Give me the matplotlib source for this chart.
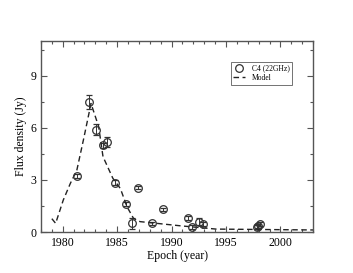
import numpy as np
import matplotlib.pyplot as plt
from matplotlib.ticker import MultipleLocator

# observed flux densities (C4, 22 GHz)
epoch = [1981.3, 1982.4, 1983.1, 1983.7, 1984.1, 1984.8, 1985.8, 1986.4, 1986.9,
         1988.2, 1989.2, 1991.5, 1991.9, 1992.5, 1992.9, 1997.8, 1997.9, 1998.1]
flux = [3.22, 7.5, 5.9, 5.0, 5.2, 2.84, 1.6, 0.5, 2.55,
        0.5, 1.3, 0.82, 0.3, 0.6, 0.44, 0.3, 0.36, 0.46]
ferr = [0.12, 0.4, 0.3, 0.15, 0.3, 0.15, 0.12, 0.3, 0.1,
        0.1, 0.1, 0.1, 0.1, 0.2, 0.12, 0.1, 0.1, 0.1]

# model curve
mod_t = [1979.0, 1979.35, 1980.05, 1980.7, 1981.3, 1981.9, 1982.6, 1983.3, 1983.7,
         1984.6, 1985.3, 1985.9, 1986.5, 1987.1, 1990.8, 1994.1, 2003.0]
mod_f = [0.77, 0.5, 1.84, 2.8, 3.57, 5.3, 7.4, 6.07, 4.34,
         3.1, 2.5, 1.46, 0.79, 0.6, 0.36, 0.17, 0.12]

plt.rcParams['font.family'] = ['Liberation Serif', 'DejaVu Serif']

fig = plt.figure(figsize=(3.53, 2.73), dpi=100)
ax = fig.add_axes([0.116, 0.150, 0.771, 0.700])

obs = ax.errorbar(epoch, flux, yerr=ferr, fmt='o', mfc='none', mec='#333333', ecolor='#333333',
                  ms=5.5, mew=0.9, elinewidth=0.7, capsize=2, capthick=0.7, label='C4 (22GHz)')
mod, = ax.plot(mod_t, mod_f, '--', color='#222222', lw=1.0, dashes=(4, 2.5), label='Model')

ax.set_xlim(1978, 2003)
ax.set_ylim(0, 11)
ax.xaxis.set_major_locator(MultipleLocator(5))
ax.xaxis.set_minor_locator(MultipleLocator(1))
ax.yaxis.set_major_locator(MultipleLocator(3))
ax.yaxis.set_minor_locator(MultipleLocator(1.5))
ax.tick_params(which='both', direction='in', top=True, right=True, color='#555555',
               labelsize=8.5, width=0.8)
ax.tick_params(which='major', length=4)
ax.tick_params(which='minor', length=2)
for s in ax.spines.values():
    s.set_color('#555555')
    s.set_linewidth(1.0)

ax.set_xlabel('Epoch (year)', fontsize=8.5, labelpad=1)
ax.set_ylabel('Flux density (Jy)', fontsize=8.5, labelpad=2)

leg = ax.legend([obs[0], mod], ['C4 (22GHz)', 'Model'], loc='upper right', fontsize=5.5,
                frameon=True, fancybox=False, edgecolor='#333333', handlelength=1.6,
                borderpad=0.35, labelspacing=0.2, borderaxespad=0,
                bbox_to_anchor=(0.923, 0.89))
leg.get_frame().set_linewidth(0.6)

fig.savefig('out.png', dpi=100)
